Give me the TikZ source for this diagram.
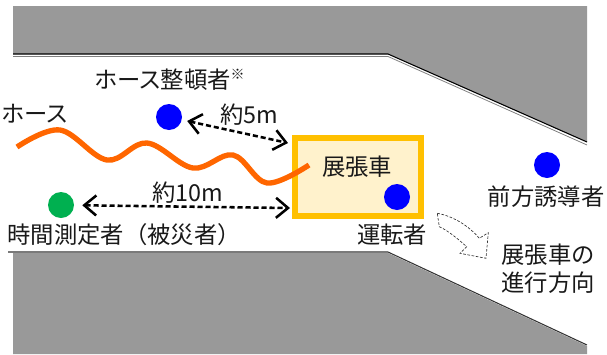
\documentclass[tikz,border=0pt]{standalone}
\usepackage{fontspec}
\setmainfont{Noto Sans CJK JP}
\newfontfamily\paltfont{Noto Sans CJK JP}[RawFeature=+palt]
\usetikzlibrary{arrows.meta,positioning}
\definecolor{roadgray}{RGB}{153,153,153}
\definecolor{hoseorange}{RGB}{255,102,0}
\definecolor{truckgold}{RGB}{255,192,0}
\definecolor{truckfill}{RGB}{255,242,204}
\definecolor{persongreen}{RGB}{0,176,80}
\definecolor{txtgray}{RGB}{25,25,25}
\tikzset{
  person/.style={circle, fill=blue, minimum size=19.5pt, inner sep=0pt},
  lbl/.style={font=\fontsize{17.5}{21}\selectfont, text=txtgray, inner sep=0pt},
  distarrow/.style={line width=1.9pt, dash pattern=on 3.8pt off 2.2pt,
    {Straight Barb[length=9pt,width=15pt]}-{Straight Barb[length=9pt,width=15pt]}},
}
\begin{document}
\begin{tikzpicture}[x=0.75pt,y=-0.75pt]
\useasboundingbox (0,0) rectangle (607,354);
% Road edges
\fill[roadgray] (13,6) -- (587,6) -- (587,142) -- (388,54) -- (13,54) -- cycle;
\draw[black, line width=0.8pt] (13,54) -- (388,54) -- (587,142);
\draw[gray, line width=0.6pt] (13,56.5) -- (388,56.5) -- (587,145);
\fill[roadgray] (13,253) -- (388,253) -- (587,346) -- (587,354) -- (13,354) -- cycle;
\draw[black!80, line width=0.8pt] (8,252) -- (388,252) -- (587,345);
% Truck
\node[draw=truckgold, line width=4.5pt, fill=truckfill, minimum width=94.5pt,
  minimum height=58.5pt, inner sep=0pt] (truck) at (357.5,177) {};
\node[lbl] (trucklbl) at (357,167) {展張車};
% Hose
\draw[hoseorange, line width=4pt] plot[smooth, tension=0.6] coordinates
  {(17,147) (60,130) (107,160) (147,143) (193,168) (233,155) (267,183) (309,165)};
\node[lbl] (hoselbl) at (35,114) {\paltfont ホース};
% People
\node[person] (hoseman) at (169,117) {};
\node[lbl] (hosemanlbl) at (170,80) {\paltfont ホース整頓者\raisebox{0.4em}{\fontsize{10.5}{10}\selectfont ※}};
\node[person, fill=persongreen] (timer) at (61,205) {};
\node[lbl] (timerlbl) at (124,235) {時間測定者（被災者）};
\node[person] (driver) at (397,197) {};
\node[lbl] (driverlbl) at (392,235) {運転者};
\node[person] (guide) at (547,165) {};
\node[lbl] (guidelbl) at (546,197) {前方誘導者};
% Distances
\coordinate (end5) at (288,143);
\coordinate (end10) at (290,208);
\draw[distarrow, shorten <=4pt] (hoseman) -- (end5);
\node[lbl] (dist5) at (249,115) {約5m};
\draw[distarrow, shorten <=6pt] (timer) -- (end10);
\node[lbl] (dist10) at (187.5,193) {約10m};
% Direction of travel
\draw[black!80, line width=0.5pt, dash pattern=on 2pt off 1.2pt]
  (437.3,213.3) .. controls (453,216) and (469,226) .. (479.3,238.3)
  -- (488.3,232.7) -- (486,258.3) -- (460,253.3) -- (466.7,246.7)
  .. controls (457,238) and (447,230) .. (439.3,226.7) -- cycle;
\node[lbl, align=center] (dirlbl) at (548,269) {展張車の\\進行方向};
\end{tikzpicture}
\end{document}
